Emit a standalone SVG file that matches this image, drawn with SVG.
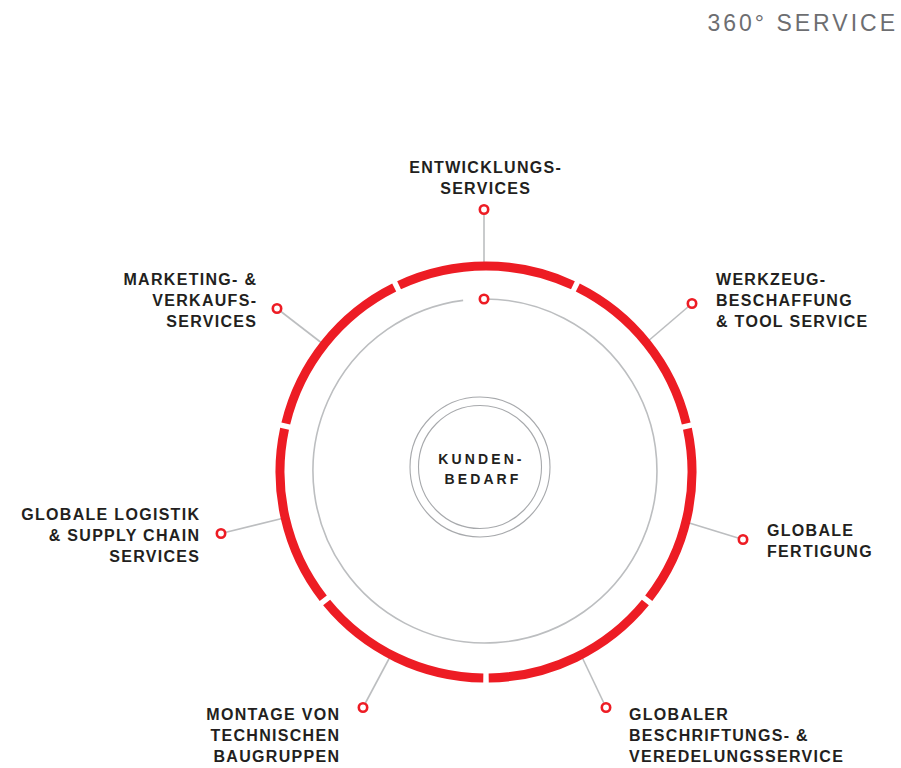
<svg xmlns="http://www.w3.org/2000/svg" width="901" height="768" viewBox="0 0 901 768">
<style>
.lbl{font-family:"Liberation Sans",Arial,sans-serif;font-weight:bold;font-size:16px;letter-spacing:1.3px;fill:#231f20}
.ctr{font-family:"Liberation Sans",Arial,sans-serif;font-weight:bold;font-size:14px;letter-spacing:3.1px;fill:#231f20}
.ttl{font-family:"Liberation Sans",Arial,sans-serif;font-size:23px;letter-spacing:3px;fill:#6d6e71}
.dot{fill:#fff;stroke:#ed1c24;stroke-width:2.6}
.con{stroke:#bcbec0;stroke-width:1.6;fill:none}
.seg{fill:none;stroke:#ed1c24;stroke-width:9}
.thin{fill:none;stroke:#a7a9ac;stroke-width:1.1}
</style>
<rect width="901" height="768" fill="#fff"/>
<text class="ttl" x="898" y="31" text-anchor="end">360° SERVICE</text>

<g id="inner-ring">
<path class="con" d="M485,299 A172,172 0 1 1 463.14,300.39"/>
</g>

<g id="connectors">
<line class="con" x1="484" y1="209.5" x2="484" y2="266"/>
<line class="con" x1="692" y1="303.5" x2="647" y2="342"/>
<line class="con" x1="277" y1="308.5" x2="323" y2="344"/>
<line class="con" x1="743" y1="539.5" x2="686" y2="522"/>
<line class="con" x1="221" y1="533.5" x2="284" y2="518"/>
<line class="con" x1="363" y1="707.5" x2="391" y2="655"/>
<line class="con" x1="606" y1="707.5" x2="581" y2="655"/>
</g>

<g id="outer-ring">
<path class="seg" d="M399.07,285.24 A206,206 0 0 1 572.93,285.24"/>
<path class="seg" d="M577.79,287.57 A206,206 0 0 1 686.21,423.53"/>
<path class="seg" d="M687.41,428.78 A206,206 0 0 1 648.74,598.30"/>
<path class="seg" d="M645.38,602.50 A206,206 0 0 1 488.70,677.98"/>
<path class="seg" d="M483.30,677.98 A206,206 0 0 1 326.62,602.50"/>
<path class="seg" d="M323.26,598.30 A206,206 0 0 1 284.59,428.78"/>
<path class="seg" d="M285.79,423.53 A206,206 0 0 1 394.21,287.57"/>
</g>

<g id="kundenbedarf">
<circle class="thin" cx="480" cy="467" r="70"/>
<circle class="thin" cx="480" cy="467" r="61.5"/>
<circle class="dot" cx="484" cy="299" r="4.2"/>
<text class="ctr" x="481.5" y="464" text-anchor="middle">KUNDEN-</text>
<text class="ctr" x="483" y="484" text-anchor="middle">BEDARF</text>
</g>

<g id="entwicklung">
<circle class="dot" cx="484" cy="209.5" r="4.2"/>
<text class="lbl" x="485.7" y="173" text-anchor="middle">ENTWICKLUNGS-</text>
<text class="lbl" x="485.7" y="193.5" text-anchor="middle">SERVICES</text>
</g>

<g id="werkzeug">
<circle class="dot" cx="692" cy="303.5" r="4.2"/>
<text class="lbl" x="716" y="285">WERKZEUG-</text>
<text class="lbl" x="716" y="306">BESCHAFFUNG</text>
<text class="lbl" x="716" y="327">&amp; TOOL SERVICE</text>
</g>

<g id="marketing">
<circle class="dot" cx="277" cy="308.5" r="4.2"/>
<text class="lbl" x="257.3" y="285" text-anchor="end">MARKETING- &amp;</text>
<text class="lbl" x="257.3" y="306" text-anchor="end">VERKAUFS-</text>
<text class="lbl" x="257.3" y="327" text-anchor="end">SERVICES</text>
</g>

<g id="fertigung">
<circle class="dot" cx="743" cy="539.5" r="4.2"/>
<text class="lbl" x="767" y="536">GLOBALE</text>
<text class="lbl" x="767" y="557">FERTIGUNG</text>
</g>

<g id="logistik">
<circle class="dot" cx="221" cy="533.5" r="4.2"/>
<text class="lbl" x="200.3" y="520" text-anchor="end">GLOBALE LOGISTIK</text>
<text class="lbl" x="200.3" y="541" text-anchor="end">&amp; SUPPLY CHAIN</text>
<text class="lbl" x="200.3" y="562" text-anchor="end">SERVICES</text>
</g>

<g id="montage">
<circle class="dot" cx="363" cy="707.5" r="4.2"/>
<text class="lbl" x="340.3" y="720" text-anchor="end">MONTAGE VON</text>
<text class="lbl" x="340.3" y="741" text-anchor="end">TECHNISCHEN</text>
<text class="lbl" x="340.3" y="762" text-anchor="end">BAUGRUPPEN</text>
</g>

<g id="beschriftung">
<circle class="dot" cx="606" cy="707.5" r="4.2"/>
<text class="lbl" x="629" y="720">GLOBALER</text>
<text class="lbl" x="629" y="741">BESCHRIFTUNGS- &amp;</text>
<text class="lbl" x="629" y="762">VEREDELUNGSSERVICE</text>
</g>
</svg>
